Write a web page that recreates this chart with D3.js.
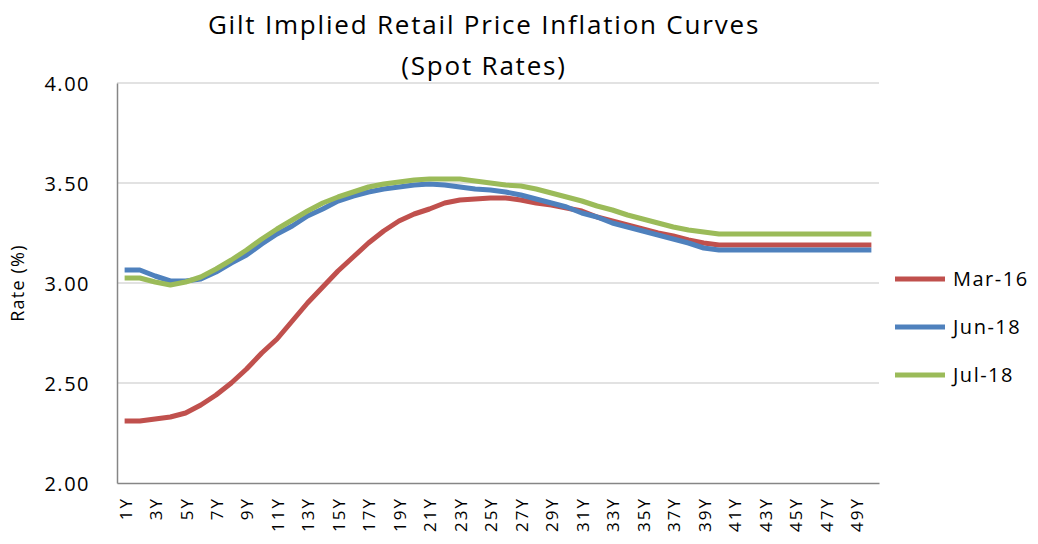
<!DOCTYPE html>
<html>
<head>
<meta charset="utf-8">
<script src="https://cdn.jsdelivr.net/npm/d3@7"></script>
<style>
  body { margin: 0; background: #fff; }
  text { font-family: "Open Sans", sans-serif; fill: #000; }
</style>
</head>
<body>
<svg id="chart" width="1038" height="544"></svg>
<script>
// maturities 1Y..50Y
const tenors = d3.range(1, 51).map(d => d + "Y");
const seriesNames = ["Mar-16", "Jun-18", "Jul-18"];
const seriesColors = ["#C0504D", "#4F81BD", "#9BBB59"];
const yTicks = [2.0, 2.5, 3.0, 3.5, 4.0];

const mar16 = [2.31, 2.31, 2.32, 2.33, 2.35, 2.39, 2.44, 2.50, 2.57, 2.65,
  2.72, 2.81, 2.90, 2.98, 3.06, 3.13, 3.20, 3.26, 3.31, 3.345,
  3.37, 3.40, 3.415, 3.42, 3.425, 3.425, 3.415, 3.40, 3.39, 3.375,
  3.36, 3.33, 3.31, 3.29, 3.27, 3.25, 3.235, 3.215, 3.20, 3.19,
  3.19, 3.19, 3.19, 3.19, 3.19, 3.19, 3.19, 3.19, 3.19, 3.19];
const jun18 = [3.065, 3.065, 3.035, 3.01, 3.01, 3.02, 3.055, 3.10, 3.14, 3.195,
  3.245, 3.285, 3.335, 3.37, 3.41, 3.435, 3.455, 3.47, 3.48, 3.49,
  3.495, 3.49, 3.48, 3.47, 3.465, 3.455, 3.44, 3.42, 3.40, 3.38,
  3.35, 3.33, 3.30, 3.28, 3.26, 3.24, 3.22, 3.20, 3.175, 3.165,
  3.165, 3.165, 3.165, 3.165, 3.165, 3.165, 3.165, 3.165, 3.165, 3.165];
const jul18 = [3.025, 3.025, 3.005, 2.99, 3.005, 3.03, 3.07, 3.115, 3.165, 3.22,
  3.27, 3.315, 3.36, 3.40, 3.43, 3.455, 3.48, 3.495, 3.505, 3.515,
  3.52, 3.52, 3.52, 3.51, 3.50, 3.49, 3.485, 3.47, 3.45, 3.43,
  3.41, 3.385, 3.365, 3.34, 3.32, 3.30, 3.28, 3.265, 3.255, 3.245,
  3.245, 3.245, 3.245, 3.245, 3.245, 3.245, 3.245, 3.245, 3.245, 3.245];
const seriesValues = [mar16, jun18, jul18];

const svg = d3.select("#chart");
const plotLeft = 117, plotRight = 879, plotTop = 83, plotBottom = 483;

const x = d3.scaleBand().domain(tenors).range([plotLeft, plotRight]);
const y = d3.scaleLinear().domain([2, 4]).range([plotBottom, plotTop]);

// gridlines
svg.append("g")
  .selectAll("line")
  .data(yTicks.slice(1))
  .enter()
  .append("line")
  .attr("x1", plotLeft).attr("x2", plotRight)
  .attr("y1", d => y(d)).attr("y2", d => y(d))
  .attr("stroke", "#D9D9D9").attr("stroke-width", 1.5);

// y axis
const yAxis = svg.append("g")
  .attr("transform", `translate(${plotLeft},0)`)
  .call(d3.axisLeft(y).tickValues(yTicks).tickFormat(d3.format(".2f")).tickSize(0).tickPadding(27));
yAxis.select(".domain").attr("stroke", "#868686").attr("stroke-width", 1.5);
yAxis.selectAll("text")
  .style("font-size", "20px")
  .style("letter-spacing", "1.5px")
  .attr("dy", "0.35em");

// x axis
const xAxis = svg.append("g")
  .attr("transform", `translate(0,${plotBottom})`)
  .call(d3.axisBottom(x).tickValues(tenors.filter((d, i) => i % 2 === 0)).tickSize(0).tickPadding(0));
xAxis.select(".domain").attr("stroke", "#868686").attr("stroke-width", 1.5);
xAxis.selectAll("text")
  .style("font-size", "17px")
  .style("letter-spacing", "2px")
  .attr("text-anchor", "end")
  .attr("transform", "rotate(-90)")
  .attr("x", -14)
  .attr("y", 1)
  .attr("dy", "0.35em");

// lines
const line = d3.line()
  .x((d, i) => x(tenors[i]) + x.bandwidth() / 2)
  .y(d => y(d));

svg.append("g")
  .selectAll("path")
  .data(seriesValues)
  .enter()
  .append("path")
  .attr("d", d => line(d))
  .attr("fill", "none")
  .attr("stroke", (d, i) => seriesColors[i])
  .attr("stroke-width", 5)
  .attr("stroke-linejoin", "round");

// titles
svg.append("text")
  .attr("x", 484).attr("y", 34)
  .attr("text-anchor", "middle")
  .style("font-size", "26px")
  .style("letter-spacing", "1.8px")
  .text("Gilt Implied Retail Price Inflation Curves");
svg.append("text")
  .attr("x", 484).attr("y", 75)
  .attr("text-anchor", "middle")
  .style("font-size", "26px")
  .style("letter-spacing", "1.8px")
  .text("(Spot Rates)");

svg.append("text")
  .attr("transform", "translate(24,283) rotate(-90)")
  .attr("text-anchor", "middle")
  .style("font-size", "18px")
  .style("letter-spacing", "1.2px")
  .text("Rate (%)");

// legend
const legend = svg.append("g")
  .selectAll("g")
  .data(seriesNames)
  .enter()
  .append("g")
  .attr("transform", (d, i) => `translate(895,${279 + i * 48})`);
legend.append("line")
  .attr("x1", 0).attr("x2", 50)
  .attr("stroke", (d, i) => seriesColors[i])
  .attr("stroke-width", 5);
legend.append("text")
  .attr("x", 58).attr("dy", "0.35em")
  .style("font-size", "20px")
  .style("letter-spacing", "1.5px")
  .text(d => d);
</script>
</body>
</html>
